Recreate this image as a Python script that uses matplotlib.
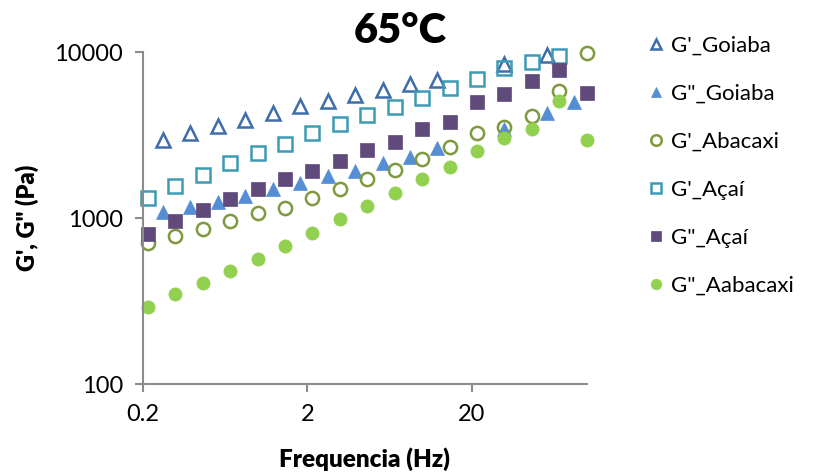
import matplotlib
matplotlib.use("Agg")
import matplotlib.pyplot as plt
from matplotlib.ticker import FixedLocator, FixedFormatter, NullLocator

plt.rcParams['font.family'] = ['Lato', 'DejaVu Sans']

# frequencies (Hz)
freq = [0.215, 0.316, 0.464, 0.681, 1.0, 1.47, 2.15, 3.16, 4.64, 6.81,
        10.0, 14.7, 21.5, 31.6, 46.4, 68.1, 100.0]
freq_goiaba = [0.265, 0.39, 0.575, 0.842, 1.24, 1.81, 2.66, 3.92, 5.75, 8.39,
               12.3, 31.6, 57.5, 83.6]

# moduli (Pa)
g1_goiaba = [2950, 3275, 3590, 3910, 4290, 4710, 5070, 5490, 5930, 6440,
             6780, 8470, 9590]
g2_goiaba = [1082, 1165, 1249, 1352, 1492, 1625, 1795, 1925, 2160, 2340,
             2630, 3420, 4270, 5020]
g1_abacaxi = [704, 779, 865, 963, 1068, 1153, 1325, 1488, 1710, 1947,
              2258, 2690, 3236, 3519, 4115, 5848, 9820]
g1_acai = [1325, 1559, 1815, 2136, 2453, 2779, 3265, 3684, 4171, 4683,
           5260, 6095, 6846, 7980, 8670, 9500]
g2_acai = [801, 963, 1117, 1301, 1495, 1718, 1928, 2205, 2568, 2882,
           3437, 3803, 5020, 5585, 6717, 7790, 5685]
g2_abacaxi = [291, 348, 408, 481, 566, 681, 809, 982, 1186, 1409,
              1710, 2038, 2530, 3020, 3423, 5090, 2951]

fig = plt.figure(figsize=(8.13, 4.75), dpi=100)
ax = fig.add_axes([0.1755, 0.1909, 0.5462, 0.6996])

ms = 9.5
ew = 1.8
ax.plot(freq_goiaba[:len(g1_goiaba)], g1_goiaba, ls='none', marker='^', ms=ms,
        mfc='none', mec='#3E6DA9', mew=ew, clip_on=False, label="G'_Goiaba")
ax.plot(freq_goiaba, g2_goiaba, ls='none', marker='^', ms=ms,
        mfc='#558ED5', mec='#558ED5', mew=0.5, clip_on=False, label='G"_Goiaba')
ax.plot(freq, g1_abacaxi, ls='none', marker='o', ms=ms,
        mfc='none', mec='#7F9A3E', mew=ew, clip_on=False, label="G'_Abacaxi")
ax.plot(freq[:len(g1_acai)], g1_acai, ls='none', marker='s', ms=ms,
        mfc='none', mec='#3D9BB5', mew=ew, clip_on=False, label="G'_Açaí")
ax.plot(freq, g2_acai, ls='none', marker='s', ms=ms,
        mfc='#604A7B', mec='#604A7B', mew=0.5, clip_on=False, label='G"_Açaí')
ax.plot(freq, g2_abacaxi, ls='none', marker='o', ms=ms,
        mfc='#92D050', mec='#92D050', mew=0.5, clip_on=False, label='G"_Aabacaxi')

ax.set_xscale('log')
ax.set_yscale('log')
ax.set_xlim(0.2, 100)
ax.set_ylim(100, 10000)

ax.xaxis.set_major_locator(FixedLocator([0.2, 2, 20]))
ax.xaxis.set_major_formatter(FixedFormatter(['0.2', '2', '20']))
ax.xaxis.set_minor_locator(NullLocator())
ax.yaxis.set_major_locator(FixedLocator([100, 1000, 10000]))
ax.yaxis.set_major_formatter(FixedFormatter(['100', '1000', '10000']))
ax.yaxis.set_minor_locator(NullLocator())

for s in ['top', 'right']:
    ax.spines[s].set_visible(False)
for s in ['left', 'bottom']:
    ax.spines[s].set_color('#8C8C8C')
    ax.spines[s].set_linewidth(1.5)
ax.tick_params(which='major', direction='out', length=6, width=1.5,
               color='#8C8C8C', labelsize=17, pad=8)

ax.set_xlabel('Frequencia (Hz)', fontsize=17.5, fontweight='heavy', va='center')
ax.xaxis.set_label_coords(0.5, -0.225)
ax.set_ylabel('G\', G" (Pa)', fontsize=17, fontweight='heavy', va='center')
ax.yaxis.set_label_coords(-0.26, 0.5)
fig.text(400 / 813, 1 - 31 / 475, '65°C', fontsize=30, fontweight='heavy',
         ha='center', va='center')

fig.legend(loc='upper left', bbox_to_anchor=(640 / 813, 1 - 27 / 475),
           frameon=False, fontsize=16, markerscale=0.8, handlelength=0.6,
           handletextpad=0.4, labelspacing=1.26, borderaxespad=0)

fig.savefig('out.png', dpi=100)
